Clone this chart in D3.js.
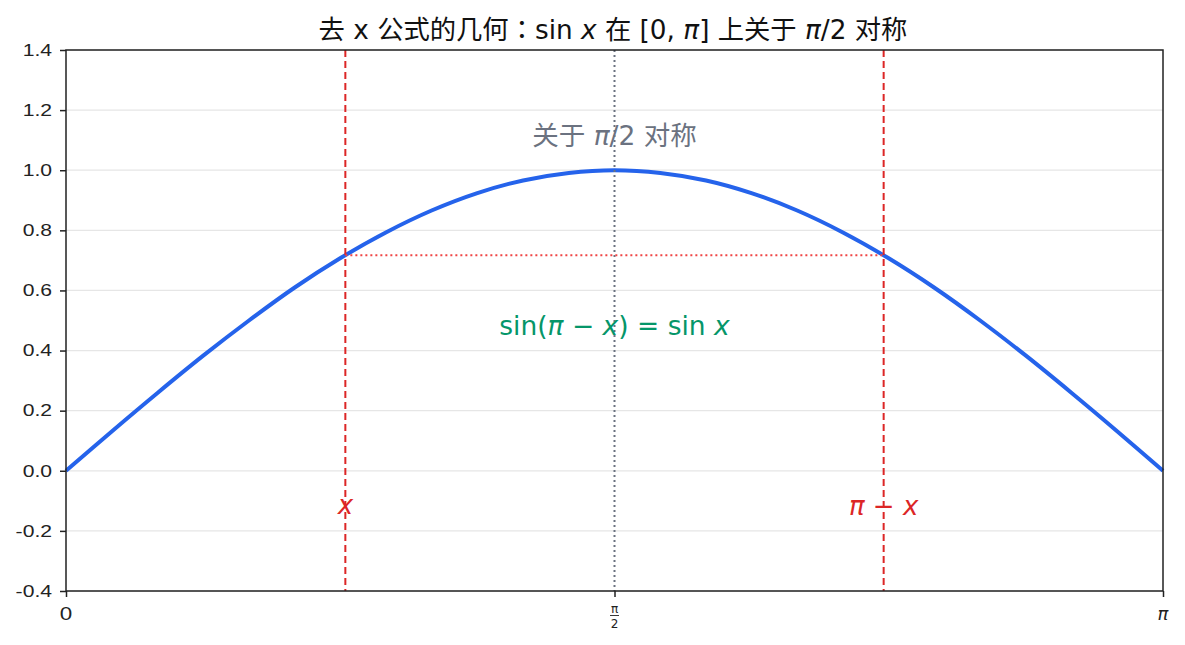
<!DOCTYPE html>
<html><head><meta charset="utf-8">
<script src="https://cdn.jsdelivr.net/npm/d3@7"></script>
<style>
body{margin:0;background:#fff;}
svg{display:block;}
</style></head>
<body>
<svg id="chart" width="1185" height="645"></svg>
<script>
// Data
const curveX = [0, 0.131, 0.262, 0.393, 0.524, 0.654, 0.785, 0.916, 1.047, 1.178, 1.309, 1.440, 1.571,
  1.702, 1.833, 1.963, 2.094, 2.225, 2.356, 2.487, 2.618, 2.749, 2.880, 3.011, 3.1416];
const curveY = [0, 0.131, 0.259, 0.383, 0.500, 0.609, 0.707, 0.793, 0.866, 0.924, 0.966, 0.991, 1.000,
  0.991, 0.966, 0.924, 0.866, 0.793, 0.707, 0.609, 0.500, 0.383, 0.259, 0.131, 0];
const markX = 0.8;
const markY = 0.717;
const mirrorX = 3.1416 - 0.8;
const midX = 1.5708;
const yTicks = [-0.4, -0.2, 0.0, 0.2, 0.4, 0.6, 0.8, 1.0, 1.2, 1.4];
const xTicks = [0, 1.5708, 3.1416];
const xTickLabels = ["0", "π/2", "π"];

const svg = d3.select("#chart");
const L = 66, R = 1163, T = 50, B = 591;
const x = d3.scaleLinear().domain([0, 3.1416]).range([L, R]);
const y = d3.scaleLinear().domain([-0.4, 1.4]).range([B, T]);

const axisColor = "#222";
const tickFont = "'Liberation Sans', Arial, sans-serif";
const mathFont = "'DejaVu Sans', 'Noto Sans CJK SC', sans-serif";
const stretch = 1.28;

// grid
svg.append("g").selectAll("line").data(yTicks).join("line")
  .attr("x1", L).attr("x2", R).attr("y1", d => y(d)).attr("y2", d => y(d))
  .attr("stroke", "#e6e6e6").attr("stroke-width", 1.2);

// curve
const pts = curveX.map((v, i) => [v, curveY[i]]);
svg.append("path").datum(pts)
  .attr("d", d3.line().x(d => x(d[0])).y(d => y(d[1])).curve(d3.curveCatmullRom))
  .attr("fill", "none").attr("stroke", "#2563eb").attr("stroke-width", 4);

// vertical dashed red
[markX, mirrorX].forEach(v => {
  svg.append("line").attr("x1", x(v)).attr("x2", x(v)).attr("y1", T).attr("y2", B)
    .attr("stroke", "#dc2626").attr("stroke-width", 2).attr("stroke-dasharray", "7,4");
});
// dotted gray mid
svg.append("line").attr("x1", x(midX)).attr("x2", x(midX)).attr("y1", T).attr("y2", B)
  .attr("stroke", "#6b7280").attr("stroke-width", 2).attr("stroke-dasharray", "2,3");
// horizontal dotted red
svg.append("line").attr("x1", x(markX)).attr("x2", x(mirrorX)).attr("y1", y(markY)).attr("y2", y(markY))
  .attr("stroke", "#ef4444").attr("stroke-width", 2).attr("stroke-dasharray", "2,3");

// axes
const yAxis = d3.axisLeft(y).tickValues(yTicks).tickFormat(d3.format(".1f")).tickSize(6).tickPadding(8);
const gy = svg.append("g").attr("transform", `translate(${L},0)`).call(yAxis);
gy.attr("font-size", null).attr("font-family", null);
gy.selectAll("text").attr("font-family", tickFont).attr("font-size", 16.5)
  .attr("fill", axisColor)
  .text(d => d3.format(".1f")(d).replace("−", "-"))
  .each(function () {
    const w = this.getComputedTextLength();
    d3.select(this).attr("textLength", w * stretch).attr("lengthAdjust", "spacingAndGlyphs");
  });
gy.selectAll("line").attr("stroke", axisColor).attr("stroke-width", 1.5);
gy.select(".domain").remove();

const xAxis = d3.axisBottom(x).tickValues(xTicks).tickFormat("").tickSize(6);
const gx = svg.append("g").attr("transform", `translate(0,${B})`).call(xAxis);
gx.selectAll("line").attr("stroke", axisColor).attr("stroke-width", 1.5);
gx.select(".domain").remove();
// x tick labels
xTicks.forEach((v, i) => {
  const lab = xTickLabels[i];
  if (lab === "π/2") {
    const g = svg.append("g").attr("font-family", mathFont).attr("fill", axisColor).attr("text-anchor", "middle");
    g.append("text").attr("x", x(v)).attr("y", B + 22).attr("font-size", 12).text("π");
    g.append("line").attr("x1", x(v) - 4.5).attr("x2", x(v) + 4.5).attr("y1", B + 24.5).attr("y2", B + 24.5)
      .attr("stroke", axisColor).attr("stroke-width", 0.9);
    g.append("text").attr("x", x(v)).attr("y", B + 37).attr("font-size", 12).text("2");
  } else if (lab === "π") {
    svg.append("text").attr("x", x(v)).attr("y", B + 29).attr("text-anchor", "middle")
      .attr("font-family", mathFont).attr("font-style", "italic")
      .attr("font-size", 18).attr("fill", axisColor).text(lab);
  } else {
    const t = svg.append("text").attr("x", x(v)).attr("y", B + 29).attr("text-anchor", "middle")
      .attr("font-family", tickFont).attr("font-size", 17.5).attr("fill", axisColor).text(lab);
    t.attr("textLength", t.node().getComputedTextLength() * stretch).attr("lengthAdjust", "spacingAndGlyphs");
  }
});

// frame
svg.append("rect").attr("x", L).attr("y", T).attr("width", R - L).attr("height", B - T)
  .attr("fill", "none").attr("stroke", axisColor).attr("stroke-width", 1.5);

// title
const title = svg.append("text").attr("x", 613).attr("y", 39).attr("text-anchor", "middle")
  .attr("font-family", mathFont).attr("font-size", 26.3).attr("fill", "#111");
title.append("tspan").text("去 x 公式的几何");
title.append("tspan").attr("font-family", "'Noto Sans CJK TC', sans-serif").text("：");
title.append("tspan").text("sin ");
title.append("tspan").attr("font-style", "italic").text("x");
title.append("tspan").text(" 在 [0, ");
title.append("tspan").attr("font-style", "italic").text("π");
title.append("tspan").text("] 上关于 ");
title.append("tspan").attr("font-style", "italic").text("π");
title.append("tspan").text("/2 对称");

// annotation gray
const a1 = svg.append("text").attr("x", x(midX)).attr("y", y(1.11)).attr("text-anchor", "middle")
  .attr("dominant-baseline", "middle")
  .attr("font-family", mathFont).attr("font-size", 26.5).attr("fill", "#6b7280");
a1.append("tspan").text("关于 ");
a1.append("tspan").attr("font-style", "italic").text("π");
a1.append("tspan").text("/2 对称");

// green formula
const a2 = svg.append("text").attr("x", x(midX)).attr("y", y(0.48)).attr("text-anchor", "middle")
  .attr("dominant-baseline", "middle")
  .attr("font-family", mathFont).attr("font-size", 26.5).attr("fill", "#059669");
a2.append("tspan").text("sin(");
a2.append("tspan").attr("font-style", "italic").text("π");
a2.append("tspan").text(" − ");
a2.append("tspan").attr("font-style", "italic").text("x");
a2.append("tspan").text(") = sin ");
a2.append("tspan").attr("font-style", "italic").text("x");

// red labels
svg.append("text").attr("x", x(markX)).attr("y", y(-0.12)).attr("text-anchor", "middle")
  .attr("dominant-baseline", "middle").attr("font-family", mathFont).attr("font-style", "italic")
  .attr("font-size", 26).attr("fill", "#dc2626").text("x");
const a3 = svg.append("text").attr("x", x(mirrorX)).attr("y", y(-0.12)).attr("text-anchor", "middle")
  .attr("dominant-baseline", "middle").attr("font-family", mathFont)
  .attr("font-size", 26).attr("fill", "#dc2626");
a3.append("tspan").attr("font-style", "italic").text("π");
a3.append("tspan").text(" − ");
a3.append("tspan").attr("font-style", "italic").text("x");
</script>
</body></html>
